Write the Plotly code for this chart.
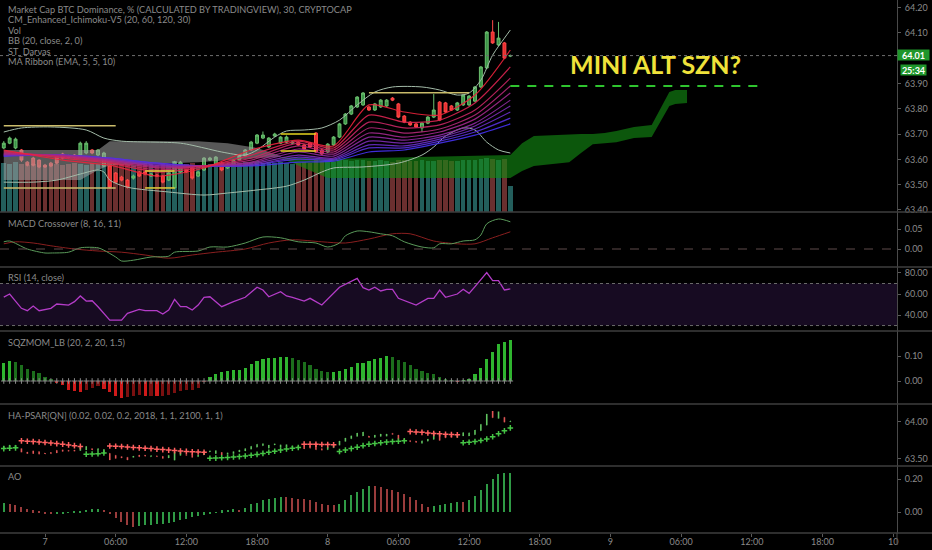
import plotly.graph_objects as go

# ---------------- DATA ----------------
bar_idx = list(range(87))  # 30-minute bars, index 0 = day 6 20:30
tick_idx = [7, 19, 31, 43, 55, 67, 79, 91, 103, 115, 127, 139, 151]
tick_text = ["7", "06:00", "12:00", "18:00", "8", "06:00", "12:00", "18:00",
             "9", "06:00", "12:00", "18:00", "10"]
price_ticks = [63.4, 63.5, 63.6, 63.7, 63.8, 63.9, 64.1, 64.2]  # 64.00 hidden under last-price tag

opens = [63.645, 63.664, 63.645, 63.637, 63.589, 63.605, 63.597, 63.577, 63.585, 63.613,
         63.621, 63.613, 63.617, 63.617, 63.625, 63.637, 63.617, 63.574, 63.574, 63.546,
         63.530, 63.518, 63.526, 63.550, 63.550, 63.534, 63.538, 63.534, 63.518, 63.487,
         63.550, 63.558, 63.566, 63.534, 63.558, 63.597, 63.577, 63.585, 63.566, 63.577,
         63.597, 63.613, 63.637, 63.664, 63.684, 63.649, 63.692, 63.664, 63.668, 63.664,
         63.668, 63.657, 63.664, 63.704, 63.637, 63.629, 63.657, 63.688, 63.740, 63.779,
         63.807, 63.815, 63.807, 63.795, 63.807, 63.811, 63.842, 63.819, 63.771, 63.747,
         63.740, 63.724, 63.743, 63.767, 63.826, 63.823, 63.811, 63.795, 63.815, 63.815,
         63.830, 63.886, 63.961, 64.103, 64.052, 64.060, 64.008]
highs = [63.672, 63.690, 63.686, 63.641, 63.593, 63.610, 63.600, 63.582, 63.590, 63.617,
         63.626, 63.618, 63.621, 63.670, 63.672, 63.641, 63.641, 63.630, 63.578, 63.550,
         63.535, 63.522, 63.540, 63.554, 63.555, 63.546, 63.542, 63.538, 63.550, 63.594,
         63.594, 63.562, 63.570, 63.555, 63.609, 63.610, 63.613, 63.590, 63.585, 63.601,
         63.621, 63.641, 63.673, 63.700, 63.710, 63.688, 63.705, 63.692, 63.694, 63.672,
         63.672, 63.661, 63.668, 63.708, 63.641, 63.664, 63.692, 63.744, 63.783, 63.815,
         63.850, 63.866, 63.811, 63.823, 63.838, 63.838, 63.846, 63.823, 63.775, 63.751,
         63.744, 63.747, 63.771, 63.858, 63.830, 63.827, 63.815, 63.827, 63.858, 63.854,
         63.890, 63.969, 64.107, 64.150, 64.143, 64.064, 64.014]
lows = [63.640, 63.660, 63.640, 63.590, 63.572, 63.572, 63.565, 63.566, 63.569, 63.580,
        63.600, 63.604, 63.604, 63.612, 63.620, 63.620, 63.612, 63.570, 63.485, 63.505,
        63.513, 63.485, 63.520, 63.530, 63.537, 63.530, 63.530, 63.505, 63.514, 63.482,
        63.546, 63.546, 63.520, 63.530, 63.554, 63.593, 63.572, 63.553, 63.562, 63.572,
        63.593, 63.609, 63.633, 63.660, 63.680, 63.645, 63.688, 63.660, 63.664, 63.660,
        63.652, 63.636, 63.645, 63.625, 63.617, 63.625, 63.653, 63.684, 63.736, 63.775,
        63.803, 63.811, 63.791, 63.791, 63.803, 63.807, 63.830, 63.763, 63.743, 63.732,
        63.724, 63.708, 63.739, 63.763, 63.751, 63.783, 63.791, 63.791, 63.811, 63.811,
        63.826, 63.882, 63.957, 64.056, 64.048, 63.996, 64.004]
closes = [63.664, 63.684, 63.680, 63.597, 63.577, 63.577, 63.570, 63.570, 63.574, 63.585,
          63.605, 63.609, 63.609, 63.664, 63.664, 63.625, 63.637, 63.625, 63.490, 63.510,
          63.518, 63.490, 63.534, 63.534, 63.542, 63.542, 63.534, 63.510, 63.546, 63.589,
          63.589, 63.550, 63.526, 63.550, 63.605, 63.605, 63.609, 63.558, 63.581, 63.597,
          63.617, 63.637, 63.668, 63.696, 63.696, 63.684, 63.700, 63.688, 63.688, 63.668,
          63.657, 63.641, 63.649, 63.629, 63.621, 63.660, 63.688, 63.740, 63.779, 63.811,
          63.846, 63.862, 63.795, 63.819, 63.834, 63.834, 63.834, 63.767, 63.747, 63.736,
          63.728, 63.743, 63.767, 63.795, 63.755, 63.787, 63.795, 63.823, 63.854, 63.850,
          63.886, 63.965, 64.103, 64.060, 64.079, 64.000, 64.010]
volume = [92, 90, 94, 91, 88, 90, 93, 89, 91, 90,
          88, 90, 92, 91, 89, 93, 90, 94, 96, 92,
          90, 91, 89, 90, 92, 91, 88, 92, 90, 97,
          93, 90, 92, 89, 94, 90, 92, 91, 90, 93,
          92, 94, 95, 96, 92, 95, 93, 94, 92, 91,
          93, 94, 92, 98, 96, 97, 95, 98, 99, 97,
          98, 99, 96, 97, 98, 97, 95, 99, 98, 97,
          96, 98, 97, 96, 99, 98, 97, 96, 98, 99,
          98, 100, 101, 100, 99, 100, 50]

# Ichimoku cloud (keypoints, incl. forward displacement)
cloud_grey_idx = [0, 13, 16, 18, 33, 38, 43, 47]
cloud_grey_top = [63.637, 63.637, 63.637, 63.672, 63.672, 63.664, 63.645, 63.613]
cloud_grey_bot = [63.518, 63.518, 63.558, 63.577, 63.589, 63.597, 63.605, 63.609]
cloud_green_idx = [47, 55, 86, 88, 90, 96, 98, 100, 102, 104, 107, 110, 113, 114, 116]
cloud_green_top = [63.609, 63.601, 63.617, 63.664, 63.692, 63.700, 63.700, 63.700,
                   63.704, 63.712, 63.728, 63.736, 63.866, 63.874, 63.874]
cloud_green_bot = [63.605, 63.526, 63.526, 63.554, 63.574, 63.589, 63.625, 63.660,
                   63.664, 63.668, 63.684, 63.688, 63.811, 63.819, 63.823]

# Bollinger bands (keypoints)
bb_up_idx = [0, 3, 8, 14, 17, 20, 30, 34, 37, 41, 43, 46, 48, 51, 54, 57, 60, 63, 66, 71,
             74, 77, 79, 81, 83, 85, 86]
bb_up = [63.708, 63.724, 63.728, 63.716, 63.684, 63.672, 63.664, 63.645, 63.629, 63.617,
         63.637, 63.688, 63.712, 63.716, 63.724, 63.755, 63.815, 63.866, 63.886, 63.886,
         63.874, 63.854, 63.862, 63.913, 64.012, 64.079, 64.111]
bb_lo_idx = [0, 5, 9, 13, 16, 17, 18, 21, 28, 34, 38, 43, 48, 51, 54, 56, 61, 67, 71, 73,
             75, 78, 80, 82, 84, 86]
bb_lo = [63.510, 63.510, 63.518, 63.542, 63.558, 63.550, 63.518, 63.490, 63.471, 63.459,
         63.467, 63.479, 63.494, 63.518, 63.550, 63.566, 63.570, 63.585, 63.617, 63.649,
         63.692, 63.724, 63.716, 63.668, 63.637, 63.625]

# MA ribbon (EMA 5 ... 50), keypoints
ribbon_idx = [0, 10, 18, 26, 34, 42, 50, 56, 62, 68, 74, 80, 86]
ema5 = [63.637, 63.597, 63.577, 63.534, 63.566, 63.637, 63.676, 63.653, 63.815, 63.787, 63.775, 63.854, 64.032]
ema10 = [63.633, 63.605, 63.585, 63.550, 63.570, 63.617, 63.672, 63.645, 63.775, 63.747, 63.755, 63.823, 63.965]
ema15 = [63.629, 63.609, 63.589, 63.558, 63.574, 63.605, 63.664, 63.637, 63.747, 63.724, 63.736, 63.795, 63.921]
ema20 = [63.625, 63.613, 63.593, 63.566, 63.574, 63.597, 63.653, 63.629, 63.724, 63.704, 63.720, 63.775, 63.890]
ema25 = [63.621, 63.613, 63.597, 63.570, 63.574, 63.589, 63.641, 63.621, 63.704, 63.688, 63.708, 63.759, 63.862]
ema30 = [63.621, 63.617, 63.597, 63.574, 63.574, 63.585, 63.629, 63.613, 63.688, 63.676, 63.696, 63.743, 63.834]
ema35 = [63.617, 63.617, 63.601, 63.577, 63.574, 63.581, 63.617, 63.605, 63.672, 63.664, 63.688, 63.732, 63.811]
ema40 = [63.617, 63.617, 63.601, 63.581, 63.574, 63.577, 63.609, 63.601, 63.657, 63.653, 63.680, 63.720, 63.787]
ema45 = [63.613, 63.617, 63.605, 63.585, 63.574, 63.577, 63.601, 63.597, 63.645, 63.645, 63.672, 63.708, 63.763]
ema50 = [63.613, 63.617, 63.605, 63.585, 63.574, 63.574, 63.589, 63.593, 63.629, 63.637, 63.664, 63.696, 63.740]

# Darvas boxes
darvas_start = [0, 24, 47, 62]
darvas_end = [19, 29, 53, 79]
darvas_top = [63.733, 63.554, 63.700, 63.863]
darvas_bot = [63.487, 63.487, 63.633, None]

# annotation / drawing
alt_text = "MINI ALT SZN?"
alt_text_idx = 110.7
alt_text_price = 63.977
alt_line_price = 63.890
alt_line_start = 86
alt_line_end = 128.4
last_price_text = "64.01"
countdown_text = "25:34"

# MACD (8,16,11)
macd_idx = [0, 1, 4, 7, 8, 11, 13, 16, 17, 19, 20, 22, 25, 28, 29, 33, 35, 38, 41, 44,
            47, 50, 53, 55, 57, 58, 60, 62, 64, 66, 68, 71, 73, 74, 76, 78, 80, 81, 82, 84, 86]
macd_val = [0.018, 0.020, 0.000, -0.010, -0.010, -0.008, 0.003, 0.003, -0.003, -0.020,
            -0.030, -0.028, -0.020, -0.018, -0.008, -0.005, 0.005, 0.005, 0.015, 0.030,
            0.028, 0.018, 0.015, 0.005, 0.015, 0.033, 0.045, 0.043, 0.038, 0.033,
            0.018, 0.005, 0.003, 0.013, 0.013, 0.020, 0.023, 0.035, 0.063, 0.075, 0.068]
signal_idx = [0, 2, 5, 8, 12, 16, 20, 24, 28, 32, 36, 41, 45, 49, 54, 58, 62, 66, 69, 73,
              77, 80, 83, 86]
signal_val = [0.013, 0.018, 0.015, 0.008, 0.000, -0.005, -0.008, -0.015, -0.023, -0.015,
              -0.008, 0.000, 0.015, 0.023, 0.018, 0.015, 0.025, 0.038, 0.038, 0.020,
              0.013, 0.013, 0.028, 0.043]

# RSI (14)
rsi_idx = [0, 1, 3, 4, 5, 6, 8, 9, 11, 12, 13, 14, 15, 16, 18, 20, 21, 23, 24, 26,
           27, 28, 29, 30, 31, 32, 33, 34, 35, 37, 39, 41, 43, 44, 45, 47, 48, 49, 51, 52,
           54, 57, 60, 61, 62, 63, 64, 65, 66, 67, 70, 72, 73, 74, 75, 77, 78, 79, 80, 82,
           83, 84, 85, 86]
rsi_val = [57.1, 60.0, 46.4, 44.1, 48.6, 44.1, 46.4, 50.5, 49.5, 52.7,
           58.1, 53.3, 53.6, 47.9, 35.2, 35.2, 41.6, 45.4, 44.1, 44.1,
           40.9, 44.8, 54.9, 47.9, 47.9, 44.8, 49.5, 56.9, 57.4, 47.9,
           52.7, 56.9, 66.4, 63.8, 57.4, 62.2, 58.1, 56.9, 53.3, 55.9,
           49.5, 66.4, 74.9, 66.0, 63.8, 66.4, 62.9, 64.5, 64.5, 55.9,
           49.5, 55.9, 55.9, 63.8, 56.9, 60.0, 64.5, 60.6, 67.0, 80.3,
           72.7, 72.7, 63.8, 64.8]

# Squeeze momentum
sqz_val = [0.073, 0.080, 0.076, 0.063, 0.050, 0.040, 0.032, 0.016, 0.005, -0.007,
           -0.017, -0.035, -0.040, -0.043, -0.037, -0.027, -0.021, -0.031, -0.045, -0.059,
           -0.067, -0.064, -0.060, -0.056, -0.059, -0.059, -0.061, -0.061, -0.057, -0.048,
           -0.041, -0.037, -0.035, -0.027, -0.004, 0.016, 0.029, 0.036, 0.040, 0.043,
           0.045, 0.053, 0.069, 0.080, 0.089, 0.092, 0.093, 0.096, 0.096, 0.093,
           0.085, 0.076, 0.063, 0.049, 0.040, 0.036, 0.036, 0.040, 0.049, 0.056,
           0.072, 0.073, 0.080, 0.087, 0.092, 0.099, 0.096, 0.085, 0.076, 0.063,
           0.049, 0.040, 0.032, 0.027, 0.016, 0.005, 0.003, -0.001, 0.003, 0.009,
           0.029, 0.053, 0.089, 0.116, 0.147, 0.156, 0.165]

# HA-PSAR
psar_val = [63.640, 63.645, 63.650,
            63.745, 63.740, 63.735, 63.730, 63.722, 63.715, 63.708, 63.700, 63.690, 63.680, 63.670,
            63.565, 63.568, 63.572, 63.580,
            63.676, 63.672, 63.668, 63.662, 63.656, 63.650, 63.645, 63.640, 63.633, 63.627,
            63.620, 63.613, 63.607, 63.602, 63.598, 63.594, 63.590,
            63.509, 63.512, 63.516, 63.520, 63.526, 63.532, 63.540, 63.550, 63.562, 63.575,
            63.590, 63.605, 63.620, 63.635, 63.645, 63.655,
            63.700, 63.700, 63.698, 63.696, 63.694, 63.692,
            63.600, 63.620, 63.640, 63.660, 63.680, 63.700, 63.710, 63.720, 63.728, 63.735,
            63.740, 63.745,
            63.870, 63.865, 63.860, 63.852, 63.845, 63.840, 63.835, 63.830, 63.826,
            63.720, 63.725, 63.735, 63.750, 63.770, 63.800, 63.840, 63.880, 63.920]
psar_flips = [3, 14, 18, 35, 51, 57, 69, 78]

# Awesome oscillator
ao_val = [0.055, 0.046, 0.040, 0.030, 0.018, 0.010, 0.002, -0.010, -0.014, -0.010,
          -0.006, -0.004, 0.001, 0.006, 0.014, 0.016, 0.020, 0.014, -0.006, -0.034,
          -0.061, -0.081, -0.091, -0.087, -0.081, -0.077, -0.075, -0.071, -0.067, -0.061,
          -0.050, -0.040, -0.030, -0.026, -0.020, -0.010, -0.002, 0.010, 0.014, 0.016,
          0.014, 0.026, 0.046, 0.055, 0.071, 0.081, 0.087, 0.091, 0.089, 0.087,
          0.081, 0.079, 0.071, 0.061, 0.051, 0.044, 0.043, 0.051, 0.071, 0.101,
          0.121, 0.141, 0.156, 0.155, 0.152, 0.141, 0.131, 0.121, 0.111, 0.091,
          0.071, 0.051, 0.030, 0.034, 0.040, 0.046, 0.055, 0.061, 0.060, 0.071,
          0.095, 0.131, 0.168, 0.202, 0.228, 0.236, 0.237]

main_legend = ["Market Cap BTC Dominance, % (CALCULATED BY TRADINGVIEW), 30, CRYPTOCAP",
               "CM_Enhanced_Ichimoku-V5 (20, 60, 120, 30)", "Vol", "BB (20, close, 2, 0)",
               "ST_Darvas", "MA Ribbon (EMA, 5, 5, 10)"]
panel_titles = ["MACD Crossover (8, 16, 11)", "RSI (14, close)", "SQZMOM_LB (20, 2, 20, 1.5)",
                "HA-PSAR[QN] (0.02, 0.02, 0.2, 2018, 1, 1, 2100, 1, 1)", "AO"]

# ---------------- LAYOUT HELPERS ----------------
W, H = 932, 550
ML, MR, MT, MB = 0, 35, 0, 17
PH = H - MT - MB
PW = W - ML - MR


def dom(top_px, bot_px):
    return [(PH - bot_px) / PH, (PH - top_px) / PH]


def py(px):
    return (PH - px) / PH


panels = [(0, 212), (212, 267), (267, 331), (331, 404), (404, 466), (466, 533)]
FONT = "Lato"
GREY = "#8a8a8a"

fig = go.Figure()

# volume (base axis, drawn beneath price)
vol_colors = ["#235e5c" if c >= o else "#6b2f2f" for o, c in zip(opens, closes)]
fig.add_trace(go.Bar(x=bar_idx, y=volume, width=0.78, marker=dict(color=vol_colors, line=dict(width=0)),
                     xaxis="x", yaxis="y"))

# clouds
fig.add_trace(go.Scatter(x=cloud_grey_idx + cloud_grey_idx[::-1],
                         y=cloud_grey_top + cloud_grey_bot[::-1], fill="toself",
                         fillcolor="rgba(160,160,160,0.55)", line=dict(width=0), mode="lines",
                         xaxis="x", yaxis="y2"))
fig.add_trace(go.Scatter(x=cloud_green_idx + cloud_green_idx[::-1],
                         y=cloud_green_top + cloud_green_bot[::-1], fill="toself",
                         fillcolor="rgba(20,140,20,0.62)", line=dict(width=0), mode="lines",
                         xaxis="x", yaxis="y2"))

# Bollinger
for ix, vals in ((bb_up_idx, bb_up), (bb_lo_idx, bb_lo)):
    fig.add_trace(go.Scatter(x=ix, y=vals, mode="lines",
                             line=dict(color="#a4bca9", width=1, shape="spline", smoothing=0.8),
                             xaxis="x", yaxis="y2"))

# MA ribbon (slow first)
ribbon = [ema5, ema10, ema15, ema20, ema25, ema30, ema35, ema40, ema45, ema50]
n = len(ribbon)
for k in range(n - 1, -1, -1):
    t = k / (n - 1)
    col = "rgb(%d,%d,%d)" % (235 - 165 * t, 35 + 15 * t, 60 + 180 * t)
    fig.add_trace(go.Scatter(x=ribbon_idx, y=ribbon[k], mode="lines",
                             line=dict(color=col, width=1.2, shape="spline", smoothing=0.7),
                             opacity=0.9, xaxis="x", yaxis="y2"))

# Darvas boxes
darvas_cols = ["#cbbd6c", "#d9c83a", "#e6d41e", "#c9bb6a"]
for s, e, t, b, c in zip(darvas_start, darvas_end, darvas_top, darvas_bot, darvas_cols):
    xs, ys = [s, e, None], [t, t, None]
    if b is not None:
        xs += [s, e]
        ys += [b, b]
    fig.add_trace(go.Scatter(x=xs, y=ys, mode="lines", line=dict(color=c, width=1.6),
                             xaxis="x", yaxis="y2"))

# candles
fig.add_trace(go.Candlestick(x=bar_idx, open=opens, high=highs, low=lows, close=closes,
                             increasing=dict(line=dict(color="#6cc070", width=1), fillcolor="#3a9446"),
                             decreasing=dict(line=dict(color="#ff4a4a", width=1), fillcolor="#e82e2e"),
                             whiskerwidth=0, xaxis="x", yaxis="y2"))

# MACD
fig.add_trace(go.Scatter(x=signal_idx, y=signal_val, mode="lines",
                         line=dict(color="#8a1f1f", width=1, shape="spline", smoothing=0.8),
                         xaxis="x", yaxis="y3"))
fig.add_trace(go.Scatter(x=macd_idx, y=macd_val, mode="lines",
                         line=dict(color="#5a9a5a", width=1, shape="spline", smoothing=0.8),
                         xaxis="x", yaxis="y3"))

# RSI
fig.add_trace(go.Scatter(x=rsi_idx, y=rsi_val, mode="lines",
                         line=dict(color="#b43cc8", width=1.3), xaxis="x", yaxis="y4"))

# SQZMOM
sqz_cols = []
for i, v in enumerate(sqz_val):
    prev = sqz_val[i - 1] if i > 0 else v
    if v >= 0:
        sqz_cols.append("#2fb52f" if v >= prev else "#1c6e1c")
    else:
        sqz_cols.append("#d01a1a" if v < prev else "#7a1010")
fig.add_trace(go.Bar(x=bar_idx, y=sqz_val, width=0.55, marker=dict(color=sqz_cols, line=dict(width=0)),
                     xaxis="x", yaxis="y5"))
fig.add_trace(go.Scatter(x=bar_idx, y=[0] * len(bar_idx), mode="markers",
                         marker=dict(symbol="cross-thin", size=4, line=dict(color="#8c8c8c", width=1)),
                         xaxis="x", yaxis="y5"))

# HA-PSAR
fig.add_trace(go.Ohlc(x=bar_idx, open=opens, high=highs, low=lows, close=closes,
                      increasing=dict(line=dict(color="#5fc25f", width=1.6)),
                      decreasing=dict(line=dict(color="#e05555", width=1.6)),
                      tickwidth=0.05, xaxis="x", yaxis="y6"))
trend, psar_cols = 1, []
for i in bar_idx:
    if i in psar_flips:
        trend = -trend
    psar_cols.append("#45c445" if trend > 0 else "#ff6060")
fig.add_trace(go.Scatter(x=bar_idx, y=psar_val, mode="markers",
                         marker=dict(symbol="cross-thin", size=4, line=dict(color=psar_cols, width=1.5)),
                         xaxis="x", yaxis="y6"))

# AO
ao_cols = ["#2f9a45" if (i == 0 or v >= ao_val[i - 1]) else "#9a3c3c" for i, v in enumerate(ao_val)]
fig.add_trace(go.Bar(x=bar_idx, y=ao_val, width=0.2, marker=dict(color=ao_cols, line=dict(width=0)),
                     xaxis="x", yaxis="y7"))

# ---------------- AXES ----------------
TICKFONT = dict(size=9, color=GREY, family=FONT)


def yax(domain, rng, tickvals):
    return dict(domain=domain, range=rng, side="right", anchor="x", showgrid=False, zeroline=False,
                showline=True, linecolor="#4a4a4a", linewidth=1, ticks="outside", ticklen=3,
                tickcolor="#5a5a5a", tickvals=tickvals, tickformat=".2f", automargin=False,
                ticklabelstandoff=2, tickfont=TICKFONT)


layout = dict(
    width=W, height=H, margin=dict(l=ML, r=MR, t=MT, b=MB, autoexpand=False),
    paper_bgcolor="#000000", plot_bgcolor="#000000", showlegend=False,
    bargap=0, barmode="overlay",
    xaxis=dict(range=[-0.64, 151.65], anchor="y7", tickvals=tick_idx, ticktext=tick_text,
               showgrid=False, zeroline=False, showline=False, ticks="outside", ticklen=3,
               tickcolor="#5a5a5a", tickfont=TICKFONT, automargin=False, ticklabelstandoff=-3,
               rangeslider=dict(visible=False)),
    yaxis=dict(domain=dom(*panels[0]), range=[0, 400], visible=False, anchor="x"),
    yaxis2=yax(dom(*panels[0]), [63.392, 64.2296], price_ticks),
    yaxis3=yax(dom(*panels[1]), [-0.045, 0.0925], [0.0, 0.05]),
    yaxis4=yax(dom(*panels[2]), [24.8, 85.7], [40, 60, 80]),
    yaxis5=yax(dom(*panels[3]), [-0.092, 0.2], [0.0, 0.1]),
    yaxis6=yax(dom(*panels[4]), [63.405, 64.243], [63.5, 64.0]),
    yaxis7=yax(dom(*panels[5]), [-0.127, 0.279], [0.0, 0.2]),
)
layout["yaxis2"]["overlaying"] = "y"
fig.update_layout(**layout)

shapes = []
# RSI band
shapes.append(dict(type="rect", xref="paper", x0=0, x1=1, yref="y4", y0=30, y1=70,
                   fillcolor="#170b22", line=dict(width=0), layer="below"))
for lvl in (30, 70):
    shapes.append(dict(type="line", xref="paper", x0=0, x1=1, yref="y4", y0=lvl, y1=lvl,
                       line=dict(color="#6a6a6a", width=1, dash="dot")))
# MACD zero line
shapes.append(dict(type="line", xref="paper", x0=0, x1=1, yref="y3", y0=0, y1=0,
                   line=dict(color="#5e4a4a", width=1, dash="dash")))
# last price dotted line
shapes.append(dict(type="line", xref="paper", x0=0, x1=1, yref="y2", y0=closes[-1], y1=closes[-1],
                   line=dict(color="#6e6e6e", width=1, dash="dot")))
# green dashed target line
shapes.append(dict(type="line", xref="x", x0=alt_line_start, x1=alt_line_end, yref="y2",
                   y0=alt_line_price, y1=alt_line_price,
                   line=dict(color="#2fc42f", width=2, dash="9px,8px")))
# panel separators
for top, bot in panels:
    shapes.append(dict(type="line", xref="paper", x0=0, x1=W / PW, yref="paper", y0=py(bot), y1=py(bot),
                       line=dict(color="#3e3e3e", width=1.5)))
# axis line extension into x-axis area
shapes.append(dict(type="line", xref="paper", x0=1, x1=1, yref="paper", y0=py(533), y1=py(545),
                   line=dict(color="#4a4a4a", width=1)))
fig.update_layout(shapes=shapes)

ann = []
LEGFONT = dict(size=9.2, color=GREY, family=FONT)
for k, txt in enumerate(main_legend):
    ann.append(dict(text=txt, xref="paper", yref="paper", x=6 / PW, y=py(9.5 + 10.4 * k),
                    xanchor="left", yanchor="middle", showarrow=False, font=LEGFONT))
title_px = [223, 277, 342, 415, 476]
for txt, ypx in zip(panel_titles, title_px):
    ann.append(dict(text=txt, xref="paper", yref="paper", x=6 / PW, y=py(ypx),
                    xanchor="left", yanchor="middle", showarrow=False, font=LEGFONT))
ann.append(dict(text=alt_text, xref="x", yref="y2", x=alt_text_idx, y=alt_text_price,
                showarrow=False, font=dict(size=25, color="#efe23a", family=FONT, weight="bold")))
ann.append(dict(text="<b>" + last_price_text + "</b>", xref="paper", yref="y2", x=1, y=closes[-1],
                xanchor="left", yanchor="middle", yshift=1, showarrow=False, bgcolor="#1f962b", width=31,
                height=10, borderpad=0, font=dict(size=9, color="#ffffff", family=FONT)))
ann.append(dict(text="<b>" + countdown_text + "</b>", xref="paper", yref="y2", x=1, y=closes[-1],
                xanchor="left", yanchor="middle", yshift=-14, xshift=3, showarrow=False,
                bgcolor="#1f962b", width=25, height=10, borderpad=0,
                font=dict(size=9, color="#ffffff", family=FONT)))
fig.update_layout(annotations=ann)

fig.write_html("out.html", config={"displayModeBar": False},
               post_script="document.body.style.margin='0';document.body.style.overflow='hidden';")
